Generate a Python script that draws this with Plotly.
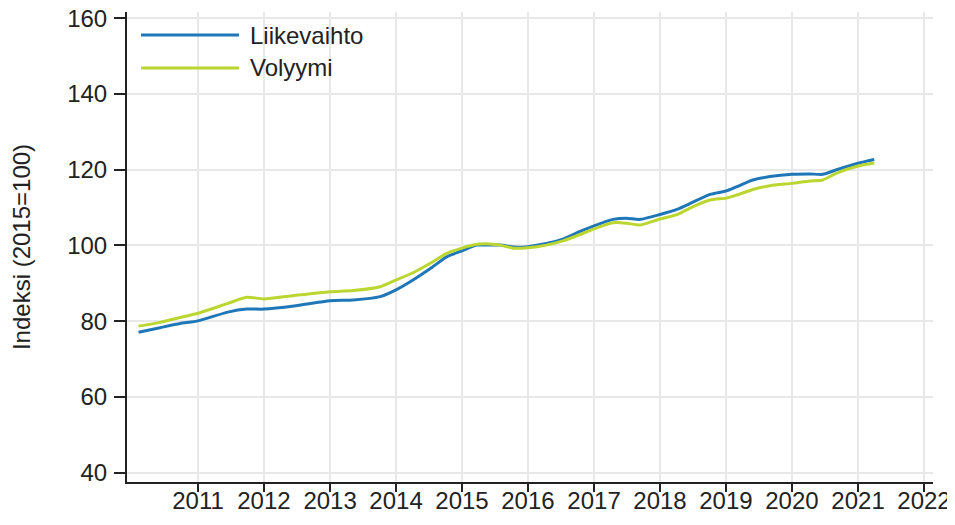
import plotly.graph_objects as go

# Readings (approximate) from the reference chart
dates = [
    "2010-02-06", "2010-06-05", "2010-09-24", "2011-01-01", "2011-06-15", "2011-09-27",
    "2012-01-01", "2012-06-15", "2013-01-01", "2013-05-08", "2013-10-05", "2014-01-01",
    "2014-04-05", "2014-07-24", "2014-10-08", "2015-01-01", "2015-03-22", "2015-06-03",
    "2015-08-01", "2015-10-12", "2016-01-01", "2016-04-12", "2016-07-13", "2016-10-16",
    "2017-01-01", "2017-04-16", "2017-06-28", "2017-09-13", "2018-01-01", "2018-04-09",
    "2018-06-13", "2018-10-05", "2019-01-01", "2019-02-28", "2019-05-30", "2019-09-02",
    "2020-01-01", "2020-04-08", "2020-06-20", "2020-09-05", "2021-01-01", "2021-04-01",
]
liikevaihto = [
    77.1, 78.3, 79.4, 80.1, 82.4, 83.2,
    83.2, 84.0, 85.4, 85.6, 86.5, 88.3,
    90.9, 94.4, 97.0, 98.6, 100.1, 100.1,
    100.1, 99.6, 99.7, 100.5, 101.7, 103.7,
    105.2, 106.9, 107.2, 106.9, 108.2, 109.6,
    111.0, 113.5, 114.4, 115.5, 117.3, 118.2,
    118.8, 118.9, 118.8, 120.0, 121.7, 122.7,
]
volyymi = [
    78.7, 79.7, 81.0, 82.1, 84.7, 86.3,
    85.9, 86.8, 87.8, 88.1, 89.1, 90.9,
    92.8, 95.7, 97.9, 99.3, 100.3, 100.4,
    100.1, 99.3, 99.4, 100.1, 101.2, 102.9,
    104.4, 106.0, 105.9, 105.4, 107.0, 108.2,
    109.8, 112.0, 112.5, 113.3, 114.8, 115.8,
    116.4, 117.0, 117.3, 119.1, 121.0, 121.8,
]
series_names = ["Liikevaihto", "Volyymi"]
year_ticks = [f"{y}-01-01" for y in range(2011, 2023)]
year_labels = [str(y) for y in range(2011, 2023)]
y_ticks = [40, 60, 80, 100, 120, 140, 160]

BLUE = "#1f77b8"
GREEN = "#bcd631"
FONT = "Liberation Sans, Arial, sans-serif"
FS = 24

# page body has an 8px margin; size the figure so the plot lands where the reference has it
OFF = 8
PLOT_L, PLOT_R, PLOT_T, PLOT_B = 127, 933, 12, 482
WID, HEI = 955 - OFF, 525 - 2 * OFF
L = PLOT_L - OFF
R = OFF + WID - PLOT_R
T = PLOT_T - OFF
B = OFF + HEI - PLOT_B

fig = go.Figure()
fig.add_trace(go.Scatter(x=dates, y=liikevaihto, mode="lines", name=series_names[0],
                         line=dict(color=BLUE, width=3, shape="spline", smoothing=0.6),
                         showlegend=False))
fig.add_trace(go.Scatter(x=dates, y=volyymi, mode="lines", name=series_names[1],
                         line=dict(color=GREEN, width=3, shape="spline", smoothing=0.6),
                         showlegend=False))

# custom legend (long line samples like the reference)
W = float(PLOT_R - PLOT_L)
H = float(PLOT_B - PLOT_T)
def px_x(p):
    return (p - PLOT_L) / W
def px_y(p):
    return (PLOT_B - p) / H

for i, (nm, col) in enumerate(zip(series_names, [BLUE, GREEN])):
    yy = 35 + i * 33
    fig.add_shape(type="line", xref="paper", yref="paper",
                  x0=px_x(141), x1=px_x(239), y0=px_y(yy), y1=px_y(yy),
                  line=dict(color=col, width=3))
    fig.add_annotation(xref="paper", yref="paper", x=px_x(248), y=px_y(yy),
                       text=nm, showarrow=False, xanchor="left", yanchor="middle",
                       font=dict(family=FONT, size=FS, color="#222222"))

fig.update_layout(
    width=WID, height=HEI,
    margin=dict(l=L, r=R, t=T, b=B, pad=0),
    paper_bgcolor="white", plot_bgcolor="white",
    font=dict(family=FONT, size=FS, color="#222222"),
    showlegend=False,
)
fig.update_xaxes(
    type="date", range=["2009-12-04", "2022-02-20"],
    tickmode="array", tickvals=year_ticks, ticktext=year_labels,
    showgrid=True, gridcolor="#e8e8e8", gridwidth=2,
    showline=True, linecolor="#222222", linewidth=2,
    ticks="outside", ticklen=8, tickwidth=2, tickcolor="#222222",
    tickfont=dict(family=FONT, size=FS, color="#222222"),
    ticklabelstandoff=-12, ticklabeloverflow="allow",
    zeroline=False, automargin=False,
)
fig.update_yaxes(
    range=[37.54, 161.66],
    tickmode="array", tickvals=y_ticks,
    showgrid=True, gridcolor="#e8e8e8", gridwidth=2,
    showline=True, linecolor="#222222", linewidth=2,
    ticks="outside", ticklen=11, tickwidth=2, tickcolor="#222222",
    tickfont=dict(family=FONT, size=FS, color="#222222"),
    ticklabelstandoff=2, ticklabeloverflow="allow",
    title=dict(text="Indeksi (2015=100)", font=dict(family=FONT, size=FS, color="#222222"), standoff=32),
    zeroline=False, automargin=False,
)

fig.write_html("out.html")
